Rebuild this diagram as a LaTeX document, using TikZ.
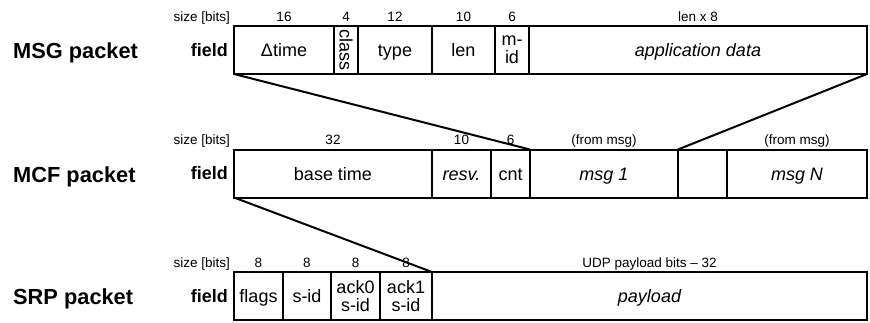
\documentclass[tikz,border=0pt]{standalone}
\usepackage{fontspec}
\setmainfont{Liberation Sans}
\usepackage{tikz}
\usetikzlibrary{positioning}
\tikzset{
	box/.style={draw, line width=2pt, outer sep=0pt, inner sep=0pt, minimum height=48pt, align=center, font=\fontsize{18}{18.3}\selectfont},
	fld/.style={box, text height=13pt, text depth=0pt},
	bits/.style={anchor=base, yshift=5pt, inner sep=0pt, font=\fontsize{13.5}{15}\selectfont},
	sizehead/.style={anchor=base east, xshift=-4pt, yshift=5pt, inner sep=0pt, font=\fontsize{13.5}{15}\selectfont},
	fieldhead/.style={anchor=east, xshift=-6pt, inner sep=0pt, font=\bfseries\fontsize{18}{20}\selectfont},
	pkt/.style={anchor=base west, inner sep=0pt, font=\bfseries\fontsize{21.8}{24}\selectfont},
	link/.style={line width=2pt}
}

\begin{document}
\begin{tikzpicture}[x=1pt, y=-1pt]
			\useasboundingbox (0,0) rectangle (870,322);
			% MSG packet
			\node[pkt] (msgname) at (13,58.5) {MSG packet};
			\node[fld, minimum width=100pt] (dtime) at (284,50) {Δtime};
			\node[box, minimum width=24pt, right=0pt of dtime] (class) {\rotatebox{-90}{class}};
			\node[fld, minimum width=74pt, right=0pt of class] (type) {type};
			\node[fld, minimum width=63pt, right=0pt of type] (len) {len};
			\node[box, minimum width=34pt, right=0pt of len] (mid) {m-\\id};
			\node[fld, minimum width=338pt, right=0pt of mid] (appdata) {\itshape application data};
			\node[fieldhead] at (dtime.west) {field};
			\node[sizehead] at (dtime.north west) {size [bits]};
			\node[bits] at (dtime.north) {16};
			\node[bits] at (class.north) {4};
			\node[bits] at (type.north) {12};
			\node[bits] at (len.north) {10};
			\node[bits] at (mid.north) {6};
			\node[bits] at (appdata.north) {len x 8};
			% MCF packet
			\node[pkt] (mcfname) at (13,182) {MCF packet};
			\node[fld, minimum width=198pt] (base) at (333,173.5) {base time};
			\node[fld, minimum width=59pt, right=0pt of base] (resv) {\itshape resv.};
			\node[fld, minimum width=39pt, right=0pt of resv] (cnt) {cnt};
			\node[fld, minimum width=148pt, right=0pt of cnt] (msgone) {\itshape msg 1};
			\node[fld, minimum width=49pt, right=0pt of msgone] (blank) {};
			\node[fld, minimum width=140pt, right=0pt of blank] (msgn) {\itshape msg N};
			\node[fieldhead] at (base.west) {field};
			\node[sizehead] at (base.north west) {size [bits]};
			\node[bits] at (base.north) {32};
			\node[bits] at (resv.north) {10};
			\node[bits] at (cnt.north) {6};
			\node[bits] at (msgone.north) {(from msg)};
			\node[bits] at (msgn.north) {(from msg)};
			% SRP packet
			\node[pkt] (srpname) at (13,304.5) {SRP packet};
			\node[fld, minimum width=49pt] (flags) at (258.5,296) {flags};
			\node[fld, minimum width=48pt, right=0pt of flags] (sid) {s-id};
			\node[box, minimum width=49pt, right=0pt of sid] (ackzero) {ack0\\s-id};
			\node[box, minimum width=52pt, right=0pt of ackzero] (ackone) {ack1\\s-id};
			\node[fld, minimum width=435pt, right=0pt of ackone] (payload) {\itshape payload};
			\node[fieldhead] at (flags.west) {field};
			\node[sizehead] at (flags.north west) {size [bits]};
			\node[bits] at (flags.north) {8};
			\node[bits] at (sid.north) {8};
			\node[bits] at (ackzero.north) {8};
			\node[bits] at (ackone.north) {8};
			\node[bits] at (payload.north) {UDP payload bits -- 32};
			% encapsulation
			\draw[link] (dtime.south west) -- (cnt.north east);
			\draw[link] (appdata.south east) -- (blank.north west);
			\draw[link] (base.south west) -- (ackone.north east);
		\end{tikzpicture}
\end{document}
